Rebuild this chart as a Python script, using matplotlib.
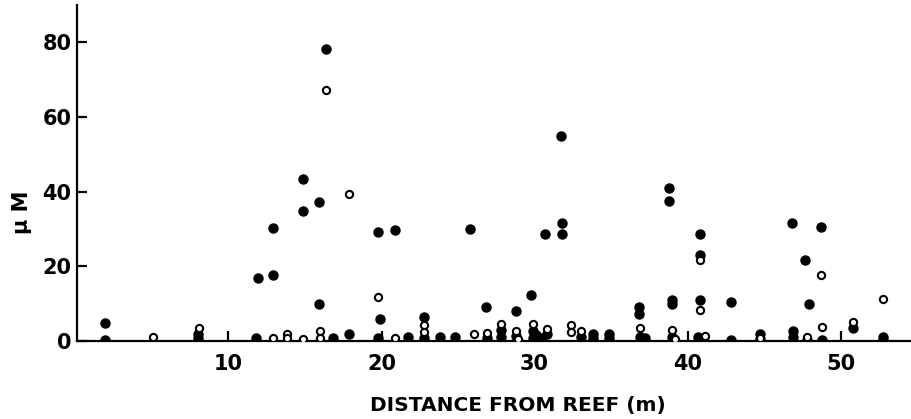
import matplotlib
matplotlib.use("Agg")
import matplotlib.pyplot as plt

# filled circles
solid_x = [1.9, 1.9, 8.0, 8.0, 11.9, 11.8, 12.9, 12.9, 14.9, 14.9, 15.9, 15.9,
           16.35, 16.8, 17.9, 19.8, 20.85, 19.9, 19.8, 21.7, 22.8, 22.8, 23.85,
           24.8, 25.8, 26.8, 26.9, 28.8, 27.8, 27.8, 29.8, 29.9, 29.9, 30.4,
           30.8, 30.7, 31.75, 31.8, 31.8, 33.05, 33.8, 33.8, 34.85, 34.85, 36.8,
           36.8, 36.9, 37.2, 38.8, 38.8, 39.0, 39.0, 39.0, 40.8, 40.8, 40.8,
           40.7, 42.85, 42.85, 44.7, 44.7, 46.8, 46.9, 46.9, 47.7, 47.95, 47.8,
           48.75, 48.8, 50.8, 52.8, 52.8, 28.8, 30.1]
solid_y = [4.7, 0.4, 2.0, 0.7, 16.9, 0.7, 30.4, 17.8, 43.5, 34.8, 37.2, 10.0,
           78.1, 0.7, 2.0, 29.3, 29.8, 6.0, 0.7, 1.2, 6.5, 0.7, 1.2,
           1.2, 30.1, 9.0, 0.7, 8.0, 2.9, 1.2, 12.2, 2.7, 0.7, 0.7,
           2.0, 28.7, 54.9, 31.5, 28.7, 1.2, 2.0, 0.7, 2.0, 0.7, 9.0,
           7.3, 1.2, 0.7, 41.0, 37.4, 11.1, 10.0, 1.2, 28.7, 23.0, 11.0,
           1.2, 10.4, 0.4, 1.8, 0.6, 31.7, 2.7, 1.2, 21.8, 9.8, 0.4,
           30.6, 0.4, 3.6, 1.2, 0.4, 1.3, 1.6]

# open circles
open_x = [5.05, 8.05, 12.9, 13.8, 13.8, 14.9, 16.0, 16.0, 16.4, 17.9, 19.8,
          20.85, 22.8, 22.8, 26.05, 26.9, 27.8, 28.8, 28.9, 29.9, 30.8, 32.35,
          32.35, 33.05, 36.9, 39.0, 39.2, 40.8, 40.8, 41.15, 44.7, 47.8, 48.7,
          48.8, 50.8, 52.8]
open_y = [1.0, 3.4, 0.7, 1.8, 0.8, 0.6, 2.8, 0.9, 67.2, 39.5, 11.7,
          0.9, 4.4, 2.5, 2.0, 2.1, 4.5, 2.7, 0.6, 4.6, 3.2, 4.2,
          2.5, 2.8, 3.4, 2.9, 0.6, 21.6, 8.4, 1.4, 0.9, 1.2, 17.7,
          3.8, 5.2, 11.3]

x_ticks = [10, 20, 30, 40, 50]
y_ticks = [0, 20, 40, 60, 80]

plt.rcParams["font.family"] = "DejaVu Sans"
plt.rcParams["font.weight"] = "bold"

fig = plt.figure(figsize=(9.11, 4.19), dpi=100)
ax = fig.add_axes([77 / 911, 1 - 341 / 419, 1 - 77 / 911, 336 / 419])

ax.plot(solid_x, solid_y, "o", color="black", markersize=6.5, zorder=3)
ax.plot(open_x, open_y, "o", markerfacecolor="white", markeredgecolor="black",
        markeredgewidth=1.5, markersize=5.2, zorder=4)

ax.set_xlim(0.1, 54.6)
ax.set_ylim(0, 90)
ax.set_xticks(x_ticks)
ax.set_yticks(y_ticks)

for side in ["top", "right"]:
    ax.spines[side].set_visible(False)
for side in ["left", "bottom"]:
    ax.spines[side].set_linewidth(1.6)

ax.tick_params(direction="in", length=7, width=1.6, labelsize=15, pad=4)
ax.tick_params(axis="x", pad=9)

fig.text(518 / 911, 1 - 405 / 419, "DISTANCE FROM REEF (m)", ha="center",
         va="center", fontsize=14.5, fontweight="bold")
fig.text(22 / 911, 1 - 212 / 419, "\u03bc M", ha="center", va="center",
         rotation=90, fontsize=15, fontweight="bold")

fig.savefig("out.png", dpi=100)
